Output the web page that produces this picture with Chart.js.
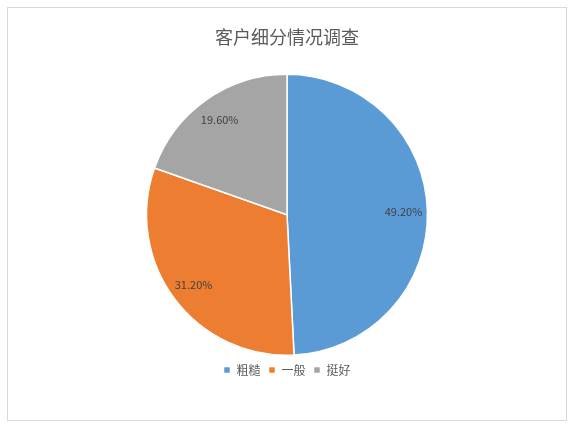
<!DOCTYPE html>
<html><head><meta charset="utf-8">
<script src="https://cdn.jsdelivr.net/npm/chart.js@4"></script>
<style>html,body{margin:0;padding:0;background:#fff}
#wrap{position:absolute;left:7px;top:7px;width:560px;height:414px;border:1px solid #d9d9d9;box-sizing:border-box}
</style></head><body>
<div id="wrap"><canvas id="c"></canvas></div>
<script>
const categories = ['粗糙','一般','挺好'];
const values = [49.2, 31.2, 19.6];
const colors = ['#5b9bd5','#ed7d31','#a5a5a5'];
const labelPlugin = {
  id:'lbl',
  afterDatasetsDraw(chart){
    const ctx=chart.ctx; const meta=chart.getDatasetMeta(0);
    ctx.save(); ctx.font='11px "Noto Sans CJK SC", sans-serif'; ctx.fillStyle='#404040';
    ctx.textAlign='center'; ctx.textBaseline='middle';
    meta.data.forEach((arc,i)=>{
      const a=(arc.startAngle+arc.endAngle)/2, r=arc.outerRadius*0.83;
      ctx.fillText(values[i].toFixed(2)+'%', arc.x+Math.cos(a)*r, arc.y+Math.sin(a)*r);
    });
    ctx.restore();
  }
};
new Chart(document.getElementById('c'),{
  type:'pie',
  data:{labels:categories,datasets:[{data:values,backgroundColor:colors,borderColor:'#fff',borderWidth:1.5}]},
  options:{responsive:true,maintainAspectRatio:false,animation:false,
    layout:{padding:{top:10,bottom:4}},
    plugins:{
      title:{display:true,text:'客户细分情况调查',color:'#595959',font:{size:18,family:'"Noto Sans CJK SC"',weight:'normal'},padding:{top:8,bottom:26}},
      legend:{position:'bottom',labels:{boxWidth:7,boxHeight:7,color:'#595959',font:{size:12,family:'"Noto Sans CJK SC"'},padding:8},},
      tooltip:{enabled:false}
    }},
  plugins:[labelPlugin,{id:'gap',beforeLayout(chart){},afterLayout(chart){}}]
});
// extra space between pie and legend via legend afterFit
Chart.register({id:'legendGap',beforeInit(chart){const f=chart.legend&&chart.legend.fit;}});
const ch=Chart.getChart('c');
const origFit=ch.legend.fit.bind(ch.legend);
ch.legend.fit=function(){origFit();this.height+=30;};
ch.update();
</script></body></html>
